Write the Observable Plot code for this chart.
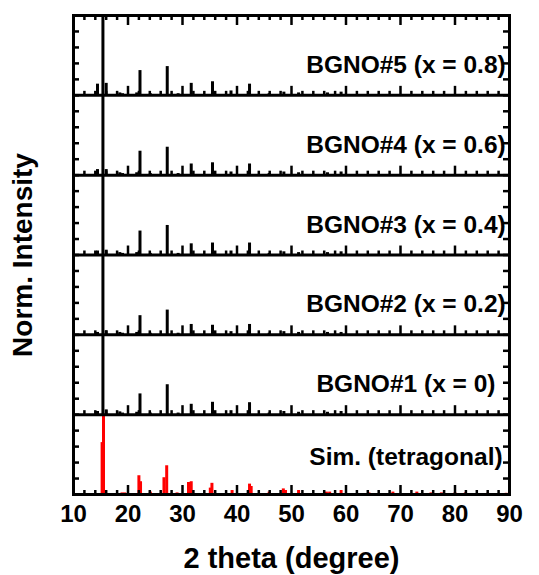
<!DOCTYPE html>
<html><head><meta charset="utf-8">
<script src="https://cdn.jsdelivr.net/npm/d3@7"></script>
<script src="https://cdn.jsdelivr.net/npm/@observablehq/plot@0.6"></script>
<style>body{margin:0;background:#fff} svg{display:block}</style>
</head><body><div id="chart"></div>
<script>
// Panel labels, bottom to top
const sampleLabels = ["Sim. (tetragonal)", "BGNO#1 (x = 0)", "BGNO#2 (x = 0.2)", "BGNO#3 (x = 0.4)", "BGNO#4 (x = 0.6)", "BGNO#5 (x = 0.8)"];

// Measured peak positions (2 theta, degree) shared by the BGNO patterns
const peakPos = [14.4, 15.4, 16.0, 18.5, 19.0, 21.6, 22.2, 24.1, 27.2, 29.2, 31.6, 35.5, 38.9, 42.3, 45.9, 48.6, 51.3, 56.6, 59.1];
// Normalized intensities of each BGNO pattern at those positions
const bgno1 = [0.04, 1.0, 0.06, 0.035, 0.02, 0.03, 0.26, 0.02, 0.375, 0.02, 0.13, 0.155, 0.05, 0.15, 0.02, 0.04, 0.03, 0.03, 0.04];
const bgno2 = [0.03, 1.0, 0.05, 0.03, 0.02, 0.03, 0.24, 0.02, 0.31, 0.02, 0.13, 0.12, 0.04, 0.13, 0.02, 0.04, 0.03, 0.03, 0.03];
const bgno3 = [0.05, 1.0, 0.06, 0.03, 0.02, 0.03, 0.30, 0.02, 0.37, 0.02, 0.14, 0.15, 0.05, 0.15, 0.02, 0.04, 0.03, 0.03, 0.04];
const bgno4 = [0.07, 1.0, 0.07, 0.03, 0.02, 0.03, 0.30, 0.02, 0.35, 0.02, 0.14, 0.155, 0.04, 0.14, 0.02, 0.04, 0.03, 0.03, 0.04];
const bgno5 = [0.14, 1.0, 0.15, 0.03, 0.02, 0.03, 0.31, 0.02, 0.36, 0.02, 0.15, 0.17, 0.055, 0.14, 0.02, 0.04, 0.03, 0.03, 0.04];

// Simulated (tetragonal) pattern
const simPos = [15.25, 15.5, 18.9, 19.4, 22.0, 22.3, 24.1, 26.6, 27.1, 29.0, 31.1, 31.6, 35.1, 35.4, 39.1, 42.3, 42.6, 45.9, 48.5, 48.9, 51.3, 56.4, 57.0, 59.1, 64.2, 68.6, 73.0, 75.6, 77.5, 80.0, 81.9, 86.0, 89.4];
const simInt = [0.65, 1.0, 0.02, 0.02, 0.235, 0.16, 0.03, 0.21, 0.36, 0.02, 0.15, 0.16, 0.08, 0.14, 0.05, 0.13, 0.10, 0.03, 0.07, 0.05, 0.05, 0.03, 0.03, 0.05, 0.02, 0.03, 0.03, 0.02, 0.02, 0.02, 0.02, 0.015, 0.015];

// Axis tick values
const xTickLabels = [10, 20, 30, 40, 50, 60, 70, 80, 90];
const xMinorTicks = [10,12,14,16,18,20,22,24,26,28,30,32,34,36,38,40,42,44,46,48,50,52,54,56,58,60,62,64,66,68,70,72,74,76,78,80,82,84,86,88,90];
const yTickStep = 0.2;

// ---- build tables ----
const bgnoSets = [bgno1, bgno2, bgno3, bgno4, bgno5];
const blackPeaks = [];
bgnoSets.forEach((h, i) => peakPos.forEach((p, j) => blackPeaks.push({x: p, base: i + 1, top: i + 1 + h[j]})));
const redPeaks = simPos.map((p, j) => ({x: p, base: 0, top: simInt[j]}));
const baselines = [1, 2, 3, 4, 5];

const pxPerUnitY = 80, pxPerDeg = 5.45;
const bottomTicks = [];
for (let k = 0; k < 6; k++) for (const t of xMinorTicks) {
  const major = t % 10 === 0;
  bottomTicks.push({x: t, y1: k, y2: k + (major ? 9 : 4) / pxPerUnitY});
}
const topTicks = xMinorTicks.map(t => ({x: t, y1: 6, y2: 6 - (t % 10 === 0 ? 10 : 5) / pxPerUnitY}));
const yTicks = d3.range(0, 6.001, yTickStep);
const tickLenX = 6 / pxPerDeg;

const labels = sampleLabels.map((s, i) => ({text: s, y: i + (i === 0 ? 0.47 : 0.38)}));

const font = "Liberation Sans, Arial, Helvetica, sans-serif";
const chart = Plot.plot({
  width: 539, height: 575,
  marginLeft: 73, marginRight: 30, marginTop: 15, marginBottom: 81,
  style: {fontFamily: font, fontWeight: "bold", fontSize: "24px", background: "#fff", color: "#000"},
  x: {domain: [10, 90], axis: null},
  y: {domain: [0, 6], axis: null},
  marks: [
    Plot.ruleX(redPeaks, {x: "x", y1: "base", y2: "top", stroke: "#ff0000", strokeWidth: 3}),
    Plot.ruleX(blackPeaks, {x: "x", y1: "base", y2: "top", stroke: "#000", strokeWidth: 3, clip: true}),
    Plot.ruleY(baselines, {x1: 10, x2: 90, stroke: "#000", strokeWidth: 3}),
    Plot.ruleX(bottomTicks, {x: "x", y1: "y1", y2: "y2", stroke: "#000", strokeWidth: 2.5}),
    Plot.ruleX(topTicks, {x: "x", y1: "y1", y2: "y2", stroke: "#000", strokeWidth: 2.5}),
    Plot.ruleY(yTicks, {x1: 10, x2: 10 + tickLenX, stroke: "#000", strokeWidth: 2.5}),
    Plot.ruleY(yTicks, {x1: 90 - tickLenX, x2: 90, stroke: "#000", strokeWidth: 2.5}),
    Plot.frame({stroke: "#000", strokeWidth: 3}),
    Plot.text(labels, {x: 71, y: "y", text: "text", fontSize: 24.5, fontWeight: "bold", fill: "#000", textAnchor: "middle"}),
    Plot.axisX({ticks: xTickLabels, tickSize: 0, tickPadding: 10, fontSize: 24, fontWeight: "bold", label: null, tickFormat: d => String(d)}),
    Plot.text(["2 theta (degree)"], {frameAnchor: "bottom", dy: 73, fontSize: 29, fontWeight: "bold", fill: "#000", textAnchor: "middle"}),
    Plot.text(["Norm. Intensity"], {frameAnchor: "left", dx: -50, rotate: -90, fontSize: 28, fontWeight: "bold", fill: "#000", textAnchor: "middle"})
  ]
});
document.getElementById("chart").appendChild(chart);
</script>
</body></html>
